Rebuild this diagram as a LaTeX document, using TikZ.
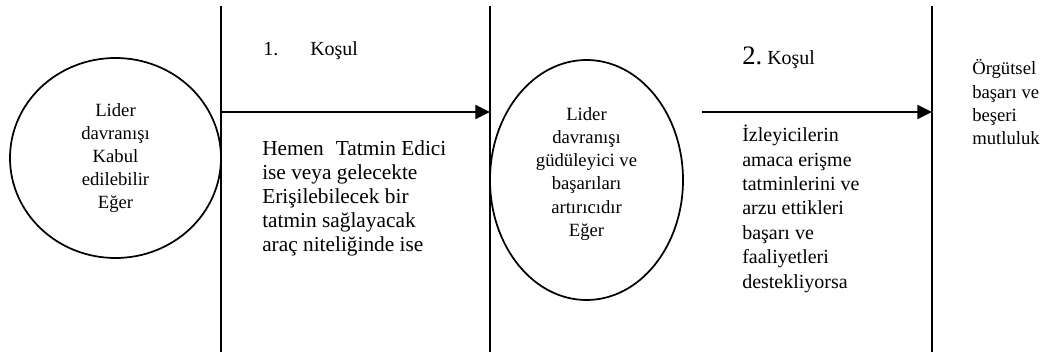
\documentclass[tikz,border=0pt]{standalone}
\usepackage{fontspec}
\setmainfont{Liberation Serif}
\usetikzlibrary{shapes.geometric, arrows.meta, positioning}

\begin{document}
\begin{tikzpicture}[
    x=0.75pt, y=-0.75pt,
    divider/.style={line width=1.4pt},
    leader/.style={ellipse, draw=black, line width=1.3pt, inner sep=0pt},
    circtext/.style={inner sep=0pt, align=center, font=\fontsize{14}{17.3}\selectfont},
    condtext/.style={inner sep=0pt, align=left, anchor=base west},
    arrow/.style={line width=1.4pt, -{Triangle[length=11pt, width=10.5pt]}}
]
    \useasboundingbox (0,0) rectangle (1050,356);

    % dividing lines
    \coordinate (d1top) at (221,6);   \coordinate (d1bot) at (221,352);
    \coordinate (d2top) at (490,6);   \coordinate (d2bot) at (490,352);
    \coordinate (d3top) at (932,6);   \coordinate (d3bot) at (932,352);
    \draw[divider] (d1top) -- (d1bot);
    \draw[divider] (d2top) -- (d2bot);
    \draw[divider] (d3top) -- (d3bot);

    % leader behaviour ellipses
    \node[leader, minimum width=158.25pt, minimum height=150pt] (lead1) at (115.5,158) {};
    \node[circtext] (lead1txt) at (lead1.center) {Lider\\davranışı\\Kabul\\edilebilir\\Eğer};
    \node[leader, minimum width=144.75pt, minimum height=180pt] (lead2) at (586.5,180) {};
    \node[circtext, yshift=4.5pt] (lead2txt) at (lead2.center) {Lider\\davranışı\\güdüleyici ve\\başarıları\\artırıcıdır\\Eğer};

    % conditions (base = last line)
    \node[condtext, font=\fontsize{15}{18}\selectfont] (cond1) at (263,56) {1.\hspace{24pt}Koşul};
    \node[condtext, font=\fontsize{16}{18.15}\selectfont] (cond1txt) at (262,252)
        {Hemen\hspace{9pt}Tatmin Edici\\ise veya gelecekte\\Erişilebilecek bir\\tatmin sağlayacak\\araç niteliğinde ise};
    \node[condtext, font=\fontsize{20}{22}\selectfont] (cond2) at (742,65) {2.\fontsize{15}{18}\selectfont\ Koşul};
    \node[condtext, font=\fontsize{15}{18.3}\selectfont] (cond2txt) at (742,288)
        {İzleyicilerin\\amaca erişme\\tatminlerini ve\\arzu ettikleri\\başarı ve\\faaliyetleri\\destekliyorsa};

    % outcome
    \node[condtext, font=\fontsize{14}{17.5}\selectfont] (result) at (972,145) {Örgütsel\\başarı ve\\beşeri\\mutluluk};

    % arrows
    \coordinate (a1start) at (221,112);
    \coordinate (a2start) at (702,112);
    \draw[arrow] (a1start) -- (a1start -| d2top);
    \draw[arrow] (a2start) -- (a2start -| d3top);

\end{tikzpicture}
\end{document}
